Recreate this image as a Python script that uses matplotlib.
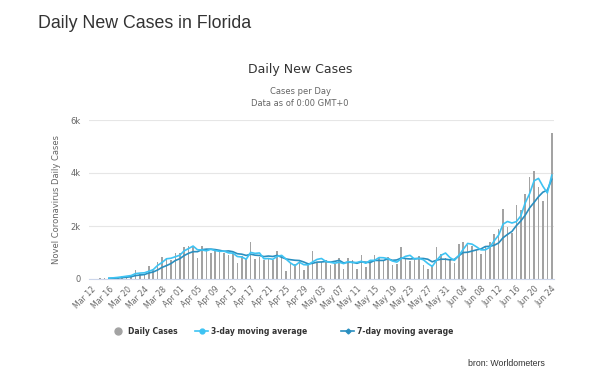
import matplotlib
matplotlib.use("Agg")
import matplotlib.pyplot as plt
from matplotlib.lines import Line2D
import numpy as np
import pandas as pd
import datetime as dt

# ---- data ----
start_date = dt.date(2020, 3, 12)
daily_cases = [
    10, 15, 22, 28, 45, 58, 80, 110, 130, 150,          # Mar 12-21
    330, 190, 180, 500, 380, 660, 830, 800, 720, 1000,  # Mar 22-31
    970, 1220, 1260, 1250, 800, 1240, 1150, 970, 1100, 1060,  # Apr 1-10
    1000, 900, 1025, 620, 850, 770, 1390, 740, 820, 730,      # Apr 11-20
    770, 730, 1060, 885, 305, 620, 580, 700, 340, 560,        # Apr 21-30
    1040, 620, 660, 700, 530, 560, 810, 370, 785, 700,        # May 1-10
    390, 920, 470, 720, 920, 785, 700, 820, 520, 570,         # May 11-20
    1215, 785, 680, 785, 870, 520, 370, 530, 1215, 940,       # May 21-30
    785, 700, 620, 1330, 1405, 1290, 1250, 1100, 950, 1250,   # May 31-Jun 9
    1390, 1680, 1900, 2630, 1980, 1730, 2785, 2620, 3215, 3835,  # Jun 10-19
    4065, 3490, 2935, 3315, 5505,                             # Jun 20-24
]
dates = [start_date + dt.timedelta(days=i) for i in range(len(daily_cases))]
tick_every = 4
y_ticks = [0, 2000, 4000, 6000]
y_tick_labels = ["0", "2k", "4k", "6k"]
line_start = 4  # moving-average lines begin Mar 16

s = pd.Series(daily_cases, dtype=float)
ma3 = s.rolling(3, min_periods=1).mean().values
ma7 = s.rolling(7, min_periods=1).mean().values
x = np.arange(len(daily_cases))

# ---- style ----
BAR = "#a3a3a3"
C3 = "#3ec3f3"
C7 = "#2a8fc0"
GRID = "#e6e6e6"
TXT = "#666666"

fig = plt.figure(figsize=(6.0, 3.79), dpi=100)
W, H = 600, 379

def fx(px):
    return px / W

def fy(py):
    return 1 - py / H

ax = fig.add_axes([fx(89), fy(279), fx(554) - fx(89), fy(120) - fy(279)])

ax.bar(x, daily_cases, width=0.38, color=BAR, zorder=2)
ax.plot(x[line_start:], ma7[line_start:], color=C7, lw=1.2, zorder=3)
ax.plot(x[line_start:], ma3[line_start:], color=C3, lw=1.2, zorder=4)

ax.set_xlim(-0.5, len(daily_cases) - 0.5)
ax.set_ylim(0, 6000)
ax.set_yticks(y_ticks)
ax.set_yticklabels(y_tick_labels, fontsize=6, color=TXT, family="DejaVu Sans")
ax.yaxis.grid(True, color=GRID, lw=0.8, zorder=0)
ax.set_axisbelow(True)
for sp in ["top", "right", "left"]:
    ax.spines[sp].set_visible(False)
ax.spines["bottom"].set_color("#ccd6eb")
ax.spines["bottom"].set_linewidth(0.8)
ax.tick_params(axis="y", length=0, pad=6)

tick_pos = x[::tick_every]
ax.set_xticks(tick_pos)
ax.set_xticklabels([d.strftime("%b %d") for d in dates][::tick_every],
                   rotation=45, ha="right", va="top", rotation_mode="anchor",
                   fontsize=5.6, color=TXT, family="DejaVu Sans")
ax.tick_params(axis="x", length=0, pad=4)

ax.set_ylabel("Novel Coronavirus Daily Cases", fontsize=6, color=TXT,
              family="DejaVu Sans", labelpad=7)

# ---- titles ----
fig.text(fx(38), fy(23), "Daily New Cases in Florida", fontsize=12.8,
         color="#333333", family="Liberation Sans", ha="left", va="center")
fig.text(fx(300), fy(70), "Daily New Cases", fontsize=9, color="#333333",
         family="DejaVu Sans", ha="center", va="center")
fig.text(fx(300), fy(92), "Cases per Day", fontsize=6, color=TXT,
         family="DejaVu Sans", ha="center", va="center")
fig.text(fx(300), fy(103), "Data as of 0:00 GMT+0", fontsize=6, color=TXT,
         family="DejaVu Sans", ha="center", va="center")

# ---- legend ----
ly = fy(331)
fig.add_artist(Line2D([fx(118)], [ly], marker="o", ms=5, color=BAR,
                      transform=fig.transFigure))
fig.text(fx(128), ly, "Daily Cases", fontsize=5.5, fontweight="bold",
         color="#333333", family="DejaVu Sans", ha="left", va="center")
fig.add_artist(Line2D([fx(195), fx(208)], [ly, ly], color=C3, lw=1.2,
                      transform=fig.transFigure))
fig.add_artist(Line2D([fx(201.5)], [ly], marker="o", ms=3.5, color=C3,
                      transform=fig.transFigure))
fig.text(fx(211), ly, "3-day moving average", fontsize=5.5, fontweight="bold",
         color="#333333", family="DejaVu Sans", ha="left", va="center")
fig.add_artist(Line2D([fx(341), fx(354)], [ly, ly], color=C7, lw=1.2,
                      transform=fig.transFigure))
fig.add_artist(Line2D([fx(347.5)], [ly], marker="D", ms=2.5, color=C7,
                      transform=fig.transFigure))
fig.text(fx(357), ly, "7-day moving average", fontsize=5.5, fontweight="bold",
         color="#333333", family="DejaVu Sans", ha="left", va="center")

# ---- source ----
fig.text(fx(545), fy(363), "bron: Worldometers", fontsize=6.3, color="#333333",
         family="Liberation Sans", ha="right", va="center")

fig.savefig("out.png", dpi=100, facecolor="white")
